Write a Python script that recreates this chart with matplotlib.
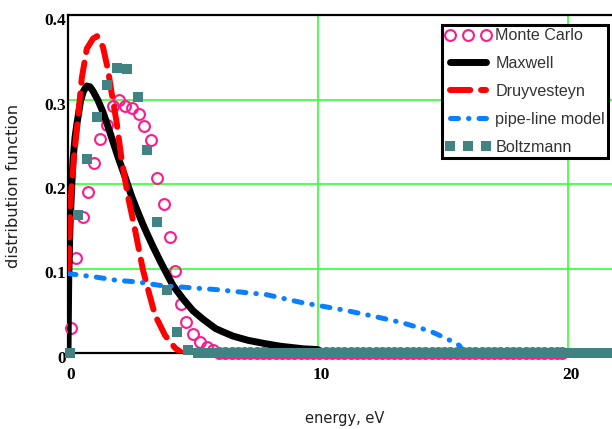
import matplotlib
matplotlib.use("Agg")
import matplotlib.pyplot as plt
import matplotlib.transforms as mtransforms

# Monte Carlo (open circles)
mc_energy = [0.11, 0.33, 0.59, 0.81, 1.02, 1.29, 1.55, 1.78, 2.05, 2.3, 2.57, 2.85,
             3.03, 3.31, 3.57, 3.82, 4.08, 4.29, 4.51, 4.72, 5.01, 5.28, 5.55, 5.8,
             6.05, 6.3, 6.55, 6.8, 7.05, 7.3, 7.55, 7.8, 8.05, 8.3, 8.55, 8.8,
             9.05, 9.3, 9.55, 9.8, 10.05, 10.3, 10.55, 10.8, 11.05, 11.3, 11.55, 11.8,
             12.05, 12.3, 12.55, 12.8, 13.05, 13.3, 13.55, 13.8, 14.05, 14.3, 14.55, 14.8,
             15.05, 15.3, 15.55, 15.8, 16.05, 16.3, 16.55, 16.8, 17.05, 17.3, 17.55, 17.8,
             18.05, 18.3, 18.55, 18.8, 19.05, 19.3, 19.55, 19.75]
mc_value = [0.03, 0.113, 0.161, 0.191, 0.225, 0.253, 0.27, 0.292, 0.3, 0.292, 0.29, 0.283,
            0.269, 0.252, 0.207, 0.176, 0.137, 0.097, 0.058, 0.037, 0.023, 0.013, 0.007, 0.003,
            0, 0, 0, 0, 0, 0, 0, 0, 0, 0, 0, 0,
            0, 0, 0, 0, 0, 0, 0, 0, 0, 0, 0, 0,
            0, 0, 0, 0, 0, 0, 0, 0, 0, 0, 0, 0,
            0, 0, 0, 0, 0, 0, 0, 0, 0, 0, 0, 0,
            0, 0, 0, 0, 0, 0, 0, 0]

# Maxwell
mx_energy = [0.0, 0.03, 0.08, 0.14, 0.2, 0.28, 0.35, 0.5, 0.62, 0.75, 0.88, 1.0, 1.2, 1.4,
             1.6, 1.8, 2.0, 2.3, 2.55, 2.75, 3.0, 3.15, 3.4, 3.7, 4.0, 4.2, 4.6, 5.0,
             5.4, 5.9, 6.2, 6.6, 7.2, 7.9, 8.5, 9.4, 10.0]
mx_value = [0.0, 0.09, 0.15, 0.192, 0.228, 0.255, 0.27, 0.298, 0.31, 0.316, 0.315, 0.31,
            0.299, 0.285, 0.268, 0.25, 0.232, 0.207, 0.185, 0.17, 0.152, 0.142, 0.126,
            0.108, 0.091, 0.08, 0.064, 0.05, 0.04, 0.029, 0.025, 0.02, 0.015, 0.011,
            0.008, 0.005, 0.004]

# Druyvesteyn
dr_energy = [0.02, 0.1, 0.25, 0.4, 0.55, 0.75, 1.0, 1.16, 1.4, 1.6, 1.75, 1.95, 2.15,
             2.4, 2.68, 3.0, 3.25, 3.48, 3.88, 4.28, 4.56]
dr_value = [0.1, 0.18, 0.235, 0.278, 0.325, 0.36, 0.372, 0.375, 0.362, 0.335, 0.307, 0.272, 0.228,
            0.185, 0.146, 0.098, 0.07, 0.045, 0.021, 0.006, 0.0]

# pipe-line model
pl_energy = [0.0, 1.08, 1.95, 2.8, 3.68, 5.0, 5.95, 7.95, 9.3, 11.0, 12.15, 13.35,
             14.48, 15.15, 15.65, 15.8]
pl_value = [0.094, 0.09, 0.086, 0.084, 0.08, 0.077, 0.075, 0.069, 0.06, 0.051, 0.044, 0.036,
            0.026, 0.017, 0.009, 0.003]

# Boltzmann (squares)
bz_energy = [0.06, 0.41, 0.77, 1.17, 1.57, 1.95, 2.37, 2.81, 3.17, 3.57, 3.97, 4.35, 4.81,
             5.2, 5.6, 6.0, 6.4, 6.8, 7.2, 7.6, 8.0, 8.4, 8.8, 9.2, 9.6, 10.0, 10.4,
             10.8, 11.2, 11.6, 12.0, 12.4, 12.8, 13.2, 13.6, 14.0, 14.4, 14.8, 15.2,
             15.6, 16.0, 16.4, 16.8, 17.2, 17.6, 18.0, 18.4, 18.8, 19.2, 19.6, 20.0,
             20.4, 20.8, 21.2, 21.6, 22.0]
bz_value = [0.0, 0.163, 0.23, 0.279, 0.317, 0.337, 0.336, 0.303, 0.24, 0.155, 0.075, 0.025, 0.004,
            0, 0, 0, 0, 0, 0, 0, 0, 0, 0, 0, 0, 0, 0,
            0, 0, 0, 0, 0, 0, 0, 0, 0, 0, 0, 0,
            0, 0, 0, 0, 0, 0, 0, 0, 0, 0, 0, 0,
            0, 0, 0, 0, 0]

x_ticks = [0, 10, 20]
y_ticks = [0, 0.1, 0.2, 0.3, 0.4]
y_tick_labels = ["0", "0.1", "0.2", "0.3", "0.4"]

fig = plt.figure(figsize=(6.12, 4.29), dpi=100)
ax = fig.add_axes([68 / 612, 76 / 429, 544 / 612, 338 / 429])

ax.plot(mc_energy, mc_value, linestyle="none", marker="o", markersize=7.8,
        markerfacecolor="none", markeredgecolor="#ff1a8c", markeredgewidth=1.5,
        label="Monte Carlo", zorder=3, clip_on=False)
ax.plot(mx_energy, mx_value, color="black", linewidth=5, solid_capstyle="round",
        solid_joinstyle="round", label="Maxwell", zorder=4)
ax.plot(dr_energy, dr_value, color="#ff0000", linewidth=4.3, dashes=(3.4, 1.8),
        dash_capstyle="round", label="Druyvesteyn", zorder=5)
ax.plot(pl_energy, pl_value, color="#0a80ff", linewidth=3.6, dashes=(1.6, 2.0, 0.1, 2.0),
        dash_capstyle="round", label="pipe-line model", zorder=5)
ax.plot(bz_energy, bz_value, linestyle="none", marker="s", markersize=7.4,
        markerfacecolor="#418282", markeredgecolor="#418282", markeredgewidth=0,
        label="Boltzmann", zorder=6, clip_on=False)

ax.set_xlim(0, 544 / 25)
ax.set_ylim(0, 0.4)
ax.set_xticks(x_ticks)
ax.set_yticks(y_ticks)
ax.set_yticklabels(y_tick_labels)
ax.grid(True, color="#33ff33", linewidth=1.2)
ax.set_axisbelow(True)

for side in ["left", "top", "bottom"]:
    ax.spines[side].set_linewidth(1.6)
    ax.spines[side].set_color("black")
ax.spines["right"].set_visible(False)

ax.tick_params(axis="both", length=0, labelsize=12.5)
ax.tick_params(axis="x", pad=10)
ax.tick_params(axis="y", pad=1.5)
for lab in ax.get_xticklabels() + ax.get_yticklabels():
    lab.set_fontfamily("Liberation Serif")
    lab.set_fontweight("bold")
shift = mtransforms.ScaledTranslation(0, -4 / 100, fig.dpi_scale_trans)
for lab in ax.get_yticklabels():
    lab.set_transform(lab.get_transform() + shift)
shiftx = mtransforms.ScaledTranslation(3 / 100, 0, fig.dpi_scale_trans)
for lab in ax.get_xticklabels():
    lab.set_transform(lab.get_transform() + shiftx)

fig.text(345 / 612, 1 - 418 / 429, "energy, eV", ha="center", va="center",
         fontsize=10.5, color="#222222", family="DejaVu Sans")
fig.text(14 / 612, 1 - 186 / 429, "distribution function", ha="center", va="center",
         rotation=90, fontsize=11.7, color="#222222", family="DejaVu Sans")

leg = ax.legend(loc="upper left", bbox_to_anchor=(442 / 612, 1 - 25 / 429),
                bbox_transform=fig.transFigure, numpoints=3, fancybox=False,
                framealpha=1, edgecolor="black", borderpad=0.2, labelspacing=0.8,
                handlelength=2.8, handletextpad=0.3, borderaxespad=0,
                prop={"family": "Liberation Sans", "size": 11.6})
leg.get_frame().set_linewidth(2.2)
for t in leg.get_texts():
    t.set_color("#333333")
leg.set_zorder(10)

fig.savefig("out.png", dpi=100)
